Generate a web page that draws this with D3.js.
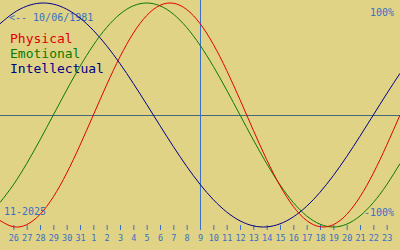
<!DOCTYPE html>
<html>
<head>
<meta charset="utf-8">
<script src="https://cdn.jsdelivr.net/npm/d3@7"></script>
<style>
  html, body { margin: 0; padding: 0; background: #e0d386; }
  svg { display: block; }
  text { font-family: "DejaVu Sans Mono", "Liberation Mono", monospace; }
</style>
</head>
<body>
<svg id="chart" width="400" height="250"></svg>
<script>
// Day labels (Oct 26 .. Nov 23), placed at day slots 1..29
const dayLabels = ["26","27","28","29","30","31","1","2","3","4","5","6","7","8","9",
  "10","11","12","13","14","15","16","17","18","19","20","21","22","23"];
// Daily values, slots 0..30 (Oct 25 .. Nov 24)
const physical = [-0.9423,-0.9977,-0.9791,-0.8879,-0.7308,-0.5196,-0.2698,0,0.2698,0.5196,
  0.7308,0.8879,0.9791,0.9977,0.9423,0.8170,0.6311,0.3984,0.1362,-0.1362,
  -0.3984,-0.6311,-0.8170,-0.9423,-0.9977,-0.9791,-0.8879,-0.7308,-0.5196,-0.2698,0];
const emotional = [-0.7818,-0.6235,-0.4339,-0.2225,0,0.2225,0.4339,0.6235,0.7818,0.9010,
  0.9749,1,0.9749,0.9010,0.7818,0.6235,0.4339,0.2225,0,-0.2225,
  -0.4339,-0.6235,-0.7818,-0.9010,-0.9749,-1,-0.9749,-0.9010,-0.7818,-0.6235,-0.4339];
const intellectual = [0.8146,0.9096,0.9718,0.9989,0.9898,0.9450,0.8660,0.7557,0.6182,0.4582,
  0.2817,0.0951,-0.0951,-0.2817,-0.4582,-0.6182,-0.7557,-0.8660,-0.9450,-0.9898,
  -0.9989,-0.9718,-0.9096,-0.8146,-0.6901,-0.5406,-0.3717,-0.1893,0,0.1893,0.3717];
const todaySlot = 15;
const legendNames = ["Physical","Emotional","Intellectual"];
const birthText = "<-- 10/06/1981";
const monthText = "11-2025";
const topText = "100%";
const bottomText = "-100%";

const W = 400, H = 250;
const svg = d3.select("#chart");
const x = d3.scaleLinear().domain([0, 30]).range([0, W]);
const y = d3.scaleLinear().domain([-1, 1]).range([227, 3]);

svg.append("rect").attr("width", W).attr("height", H).attr("fill", "#e0d386");

// zero line
svg.append("line")
  .attr("x1", 0).attr("x2", W)
  .attr("y1", Math.round(y(0)) + 0.5).attr("y2", Math.round(y(0)) + 0.5)
  .attr("stroke", "#44697a").attr("stroke-width", 1);

// today line
svg.append("line")
  .attr("x1", Math.round(x(todaySlot)) + 0.5).attr("x2", Math.round(x(todaySlot)) + 0.5)
  .attr("y1", 0).attr("y2", 230)
  .attr("stroke", "#3a6fc4").attr("stroke-width", 1);

// axis
const axis = d3.axisBottom(x)
  .tickValues(d3.range(1, 30))
  .tickFormat((d, i) => dayLabels[i])
  .tickSize(5)
  .tickPadding(5);
const ax = svg.append("g").attr("transform", "translate(0,225)").call(axis);
ax.select(".domain").remove();
ax.selectAll(".tick line").attr("stroke", "#3a6fc4");
ax.selectAll(".tick text")
  .attr("fill", "#3a6fc4")
  .style("font-family", "'DejaVu Sans Mono', monospace")
  .style("font-size", "8.5px");

// texts
const blue = "#3a6fc4";
svg.append("text").attr("x", 9).attr("y", 21).attr("fill", blue)
  .style("font-size", "10px").text(birthText);
svg.append("text").attr("x", 394).attr("y", 16).attr("fill", blue)
  .attr("text-anchor", "end").style("font-size", "10px").text(topText);
svg.append("text").attr("x", 394).attr("y", 216).attr("fill", blue)
  .attr("text-anchor", "end").style("font-size", "10px").text(bottomText);
svg.append("text").attr("x", 4).attr("y", 215).attr("fill", blue)
  .style("font-size", "10px").text(monthText);

const colors = ["#e00000", "#0a7a00", "#000088"];
legendNames.forEach((n, i) => {
  svg.append("text").attr("x", 10).attr("y", 43 + i * 14.8)
    .attr("fill", colors[i]).style("font-size", "13px").text(n);
});

// curves
const line = d3.line()
  .x((d, i) => x(i))
  .y(d => y(d))
  .curve(d3.curveNatural);
[intellectual, emotional, physical].forEach((s, j) => {
  svg.append("path").datum(s)
    .attr("d", line)
    .attr("fill", "none")
    .attr("stroke", [colors[2], colors[1], colors[0]][j])
    .attr("stroke-width", 1);
});
</script>
</body>
</html>
